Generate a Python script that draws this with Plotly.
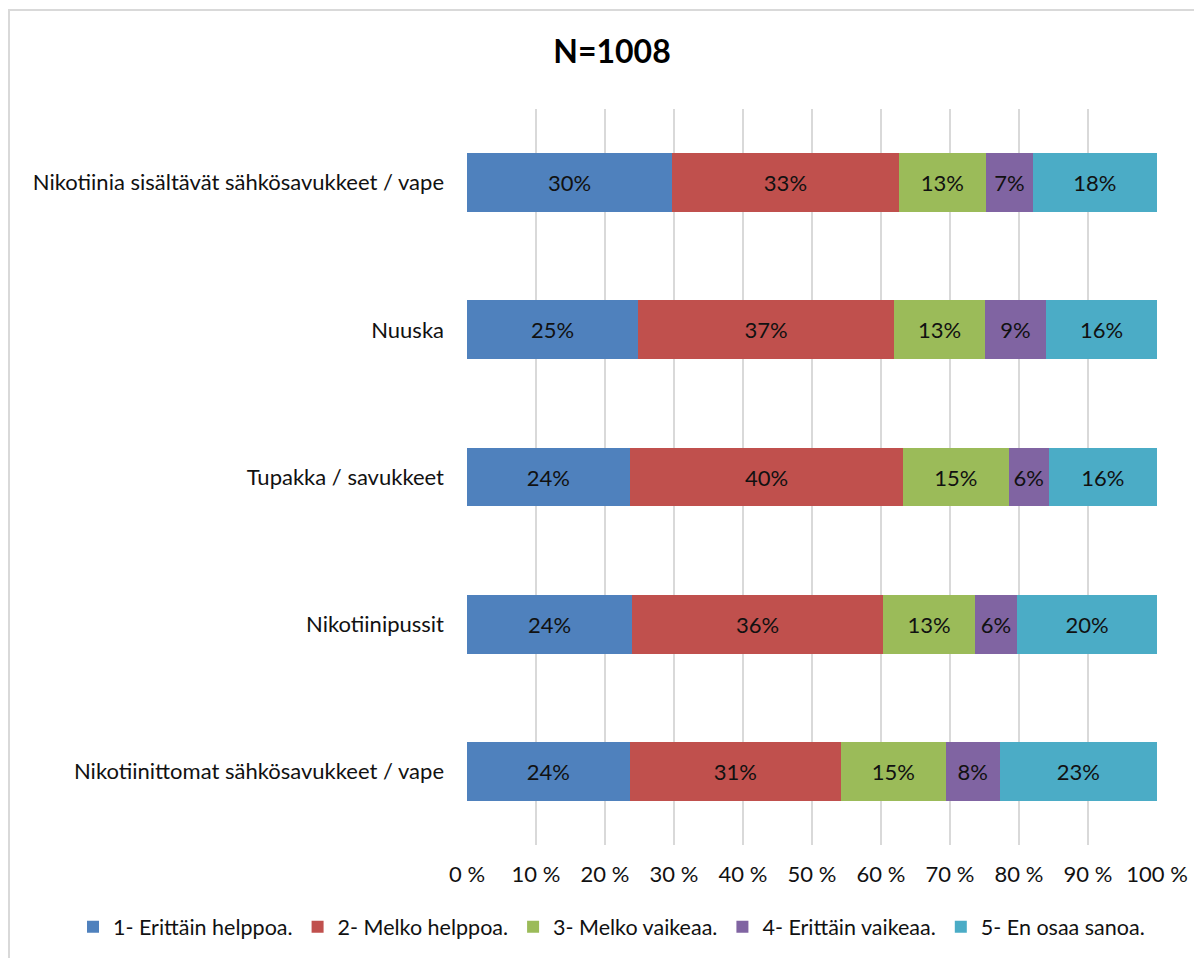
import plotly.graph_objects as go

# categories, top to bottom
categories = [
    "Nikotiinia sisältävät sähkösavukkeet / vape",
    "Nuuska",
    "Tupakka / savukkeet",
    "Nikotiinipussit",
    "Nikotiinittomat sähkösavukkeet / vape",
]

series_names = [
    "1- Erittäin helppoa.",
    "2- Melko helppoa.",
    "3- Melko vaikeaa.",
    "4- Erittäin vaikeaa.",
    "5- En osaa sanoa.",
]

# shares in percent, one list per answer option (same order as categories)
erittain_helppoa = [29.7, 24.8, 23.6, 23.9, 23.6]
melko_helppoa = [32.9, 37.1, 39.6, 36.4, 30.6]
melko_vaikeaa = [12.6, 13.2, 15.3, 13.3, 15.2]
erittain_vaikeaa = [6.8, 8.8, 5.8, 6.1, 7.8]
en_osaa_sanoa = [18.0, 16.1, 15.7, 20.3, 22.8]

series_values = [erittain_helppoa, melko_helppoa, melko_vaikeaa,
                 erittain_vaikeaa, en_osaa_sanoa]
colors = ["#4F81BD", "#C0504D", "#9BBB59", "#8064A2", "#4BACC6"]

font_family = "Lato, 'Open Sans', sans-serif"
fs = 22

fig = go.Figure()
for name, vals, col in zip(series_names, series_values, colors):
    fig.add_trace(go.Bar(
        y=categories, x=vals, name=name, orientation="h",
        marker=dict(color=col, line=dict(width=0)),
        text=[f"{v:.0f}%" for v in vals],
        textposition="inside", insidetextanchor="middle", textangle=0,
        constraintext="none",
        textfont=dict(size=fs, color="#111111", family=font_family),
        hoverinfo="x+y+name",
    ))

fig.update_layout(
    width=1202, height=958,
    barmode="stack", bargap=0.6,
    plot_bgcolor="white", paper_bgcolor="white",
    margin=dict(l=459, r=53, t=101, b=121),
    font=dict(family=font_family, size=fs, color="#111111"),
    title=dict(text="<b>N=1008</b>", x=604 / 1202, xanchor="center",
               y=1 - 44 / 958, yanchor="middle",
               font=dict(size=32, color="#000000", family=font_family)),
    xaxis=dict(range=[0, 100], dtick=10, ticksuffix=" %", showgrid=True,
               gridcolor="#d9d9d9", gridwidth=1.5, zeroline=False,
               showline=False, ticks="", ticklabelstandoff=14,
               tickfont=dict(size=fs)),
    yaxis=dict(categoryorder="array", categoryarray=categories,
               autorange="reversed", showgrid=False, ticks="",
               ticklabelstandoff=22, tickfont=dict(size=fs)),
    legend=dict(orientation="h", x=-0.571, xanchor="left", y=-0.111,
                yanchor="middle", font=dict(size=21.5), traceorder="normal",
                itemclick=False),
    shapes=[dict(type="rect", xref="paper", yref="paper",
                 x0=-0.6638, x1=1.2, y0=-0.3, y1=1.1345,
                 line=dict(color="#d9d9d9", width=2), layer="below")],
)

fig.write_html("out.html")
